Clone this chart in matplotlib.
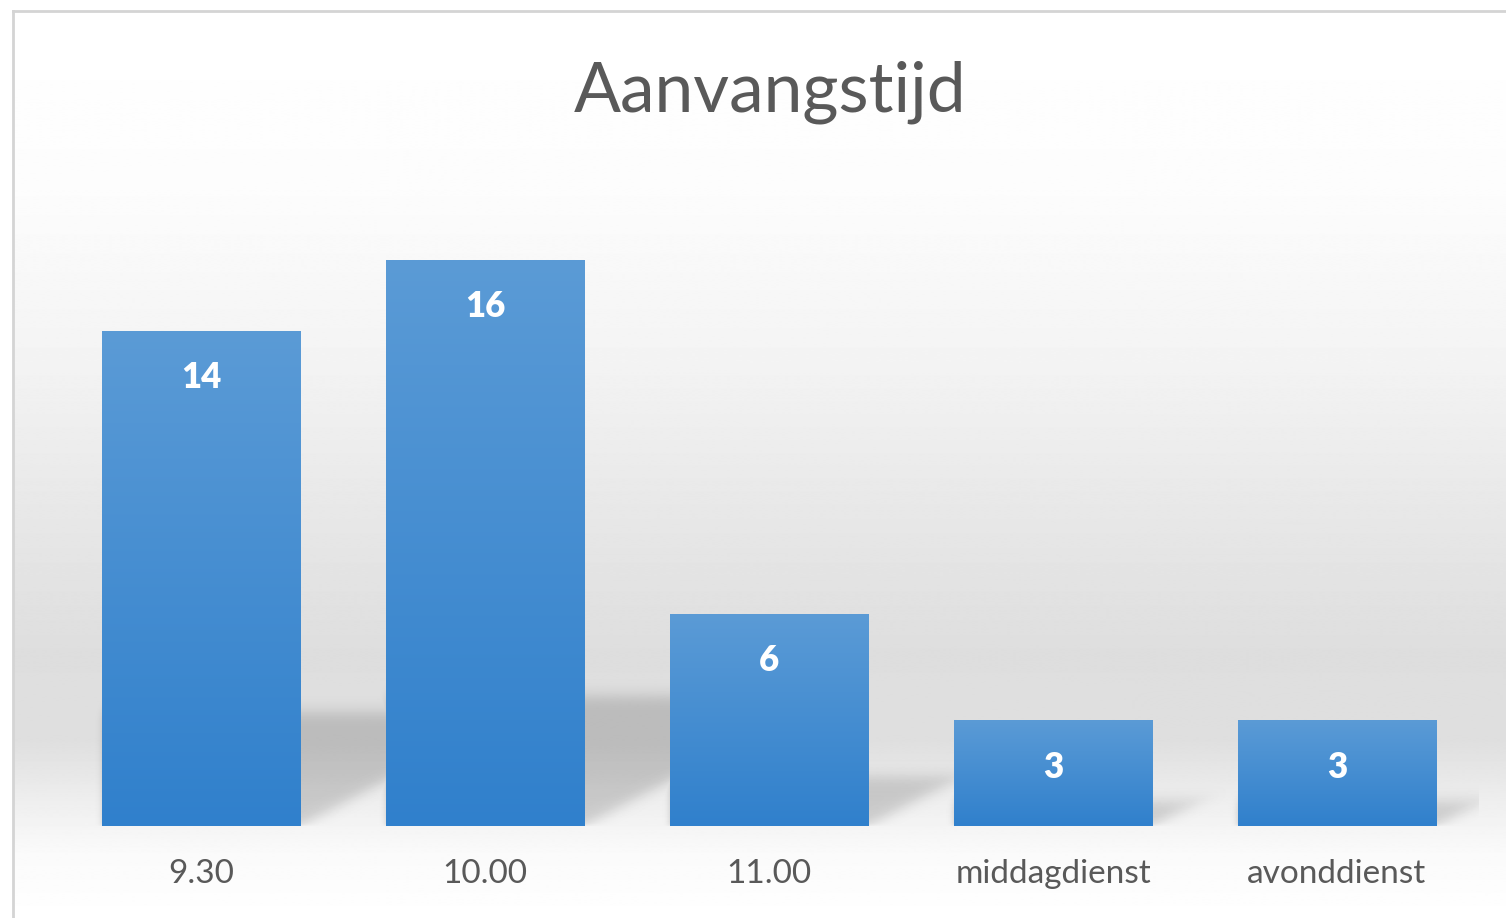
import numpy as np
import matplotlib
matplotlib.use("Agg")
import matplotlib.pyplot as plt
from matplotlib.colors import LinearSegmentedColormap, to_rgb

categories = ["9.30", "10.00", "11.00", "middagdienst", "avonddienst"]
values = [14, 16, 6, 3, 3]
title = "Aanvangstijd"

plt.rcParams["font.family"] = ["Lato", "DejaVu Sans"]

W, H = 1506, 918
fig = plt.figure(figsize=(W / 100, H / 100), dpi=100)
fig.patch.set_facecolor("white")

# background: grey wash behind the chart, Excel style
bg = fig.add_axes([0, 0, 1, 1], zorder=-2)
bg.set_xlim(0, W)
bg.set_ylim(H, 0)
bg.axis("off")
stops_y = [0, 180, 350, 500, 650, 740, 800, 850, H]
stops_v = [1.0, 0.99, 0.955, 0.91, 0.87, 0.875, 0.935, 0.98, 1.0]
rows = np.interp(np.arange(H), stops_y, stops_v)
grad = np.repeat(rows[:, None], 2, axis=1)
bg.imshow(grad, cmap="gray", vmin=0, vmax=1, extent=[13, W, H, 10],
          aspect="auto", interpolation="bilinear")
bg.plot([13.5, 13.5], [H, 10.5], color="#d4d4d4", lw=2)
bg.plot([13.5, W], [10.5, 10.5], color="#d4d4d4", lw=2)

ax = fig.add_axes([59 / W, 92 / H, 1420 / W, 637 / H])
ax.set_facecolor("none")
x = np.arange(len(categories))
width = 0.7
bars = ax.bar(x, values, width=width, color="#4a8fd4", zorder=3)

# soft perspective shadows behind bars
px_x = 1420 / 5.0
px_y = 637 / 18.0
slope = 0.235
gx = np.linspace(-0.5, 4.5, 1420)
gy = np.linspace(0, 5, int(5 * px_y))
GX, GY = np.meshgrid(gx, gy)
alpha = np.zeros_like(GX)
def soft(d, w):
    return 0.5 * (1 + np.tanh(d / w))
for xi, v in zip(x, values):
    h = 0.23 * v
    xl, xr = xi - width / 2, xi + width / 2
    a = (soft((h - GY) * px_y, 9) * soft((xr + slope * GY - GX) * px_x, 16)
         * soft((GX - xl) * px_x, 4) * soft(GY * px_y, 2))
    alpha = np.maximum(alpha, 0.16 * a)
shadow = np.zeros(GX.shape + (4,))
shadow[..., 3] = alpha
ax.imshow(shadow, extent=[-0.5, 4.5, 0, 5], origin="lower", aspect="auto",
          zorder=2, interpolation="bilinear")

# vertical gradient inside each bar
bar_cmap = LinearSegmentedColormap.from_list("bar", [to_rgb("#3080cc"), to_rgb("#5b9bd6")])
g = np.linspace(0, 1, 256)[:, None]
for b in bars:
    im = ax.imshow(g, cmap=bar_cmap, origin="lower", aspect="auto",
                   extent=[b.get_x(), b.get_x() + b.get_width(), 0, b.get_height()],
                   zorder=4)
    im.set_clip_path(b)

for xi, v in zip(x, values):
    ax.annotate(str(v), (xi, v), xytext=(0, -34), textcoords="offset points",
                ha="center", va="center", color="white", fontsize=25,
                fontweight="heavy", zorder=5)

ax.set_xlim(-0.5, 4.5)
ax.set_ylim(0, 18)
ax.set_xticks(x)
ax.set_xticklabels(categories, fontsize=24, color="#595959")
ax.tick_params(axis="x", length=0, pad=24)
ax.set_yticks([])
for s in ax.spines.values():
    s.set_visible(False)

fig.text(770 / W, 1 - 92 / H, title, ha="center", va="center",
         fontsize=50, color="#595959")

fig.savefig("out.png", dpi=100)
